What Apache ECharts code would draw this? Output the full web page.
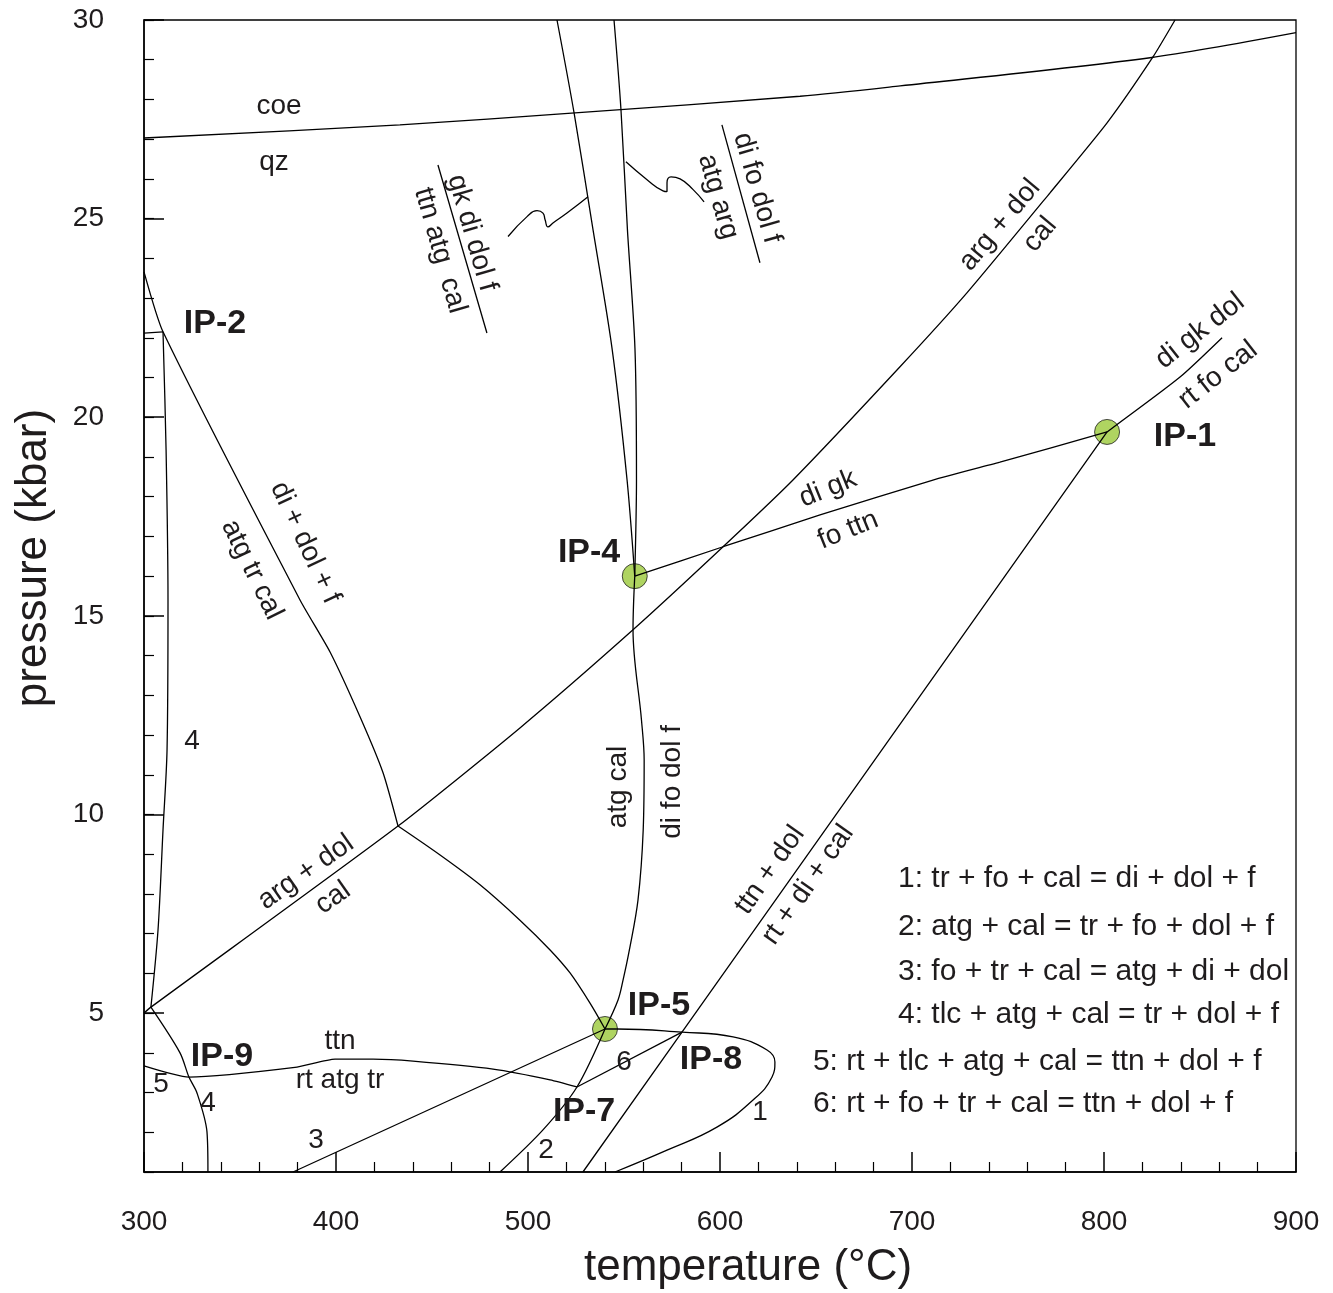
<!DOCTYPE html>
<html><head><meta charset="utf-8">
<script src="https://cdn.jsdelivr.net/npm/echarts@6/dist/echarts.min.js"></script>
<style>html,body{margin:0;padding:0;background:#fff}#c{width:1333px;height:1293px}</style>
</head><body><div id="c"></div>
<script>
// ---- axes ----
const xTicks = [300, 400, 500, 600, 700, 800, 900];
const yTicks = [5, 10, 15, 20, 25, 30];

// ---- reaction curves [T (°C), P (kbar)] ----
const coeQz = [[300,27.03],[433.3,27.36],[524.5,27.66],[641.7,28.08],[693.8,28.34],[824,29.05],[900,29.68]];
const lineA = [[515.1,30],[524.0,27.66],[533.9,24.71],[543.75,21.74],[551.6,18.42],[555.6,16.0]];
const lineB = [[544.8,30],[548.4,27.76],[551.8,24.71],[555.7,21.74],[556.5,18.42],[555.6,16.0]];
const ip4to5 = [[555.6,16.0],[554.7,14.65],[559.1,12.38],[560.5,11.37],[560.0,9.61],[557.3,7.85],[552.8,6.59],[549.5,5.83],[546.9,5.33],[540.1,4.6]];
const junctionTo5 = [[432.3,9.71],[454.2,8.98],[475.0,8.23],[495.8,7.34],[511.5,6.59],[521.9,6.01],[532.3,5.25],[540.1,4.6]];
const diDolF = [[300,23.66],[309.9,22.15],[381.25,15.40],[396.9,14.09],[412.5,12.46],[424.5,11.05],[432.3,9.71]];
const react4Top = [[300,22.12],[309.9,22.15]];
const react4Upper = [[309.9,22.15],[311.5,19.18],[312.5,15.40],[312.0,11.62],[309.9,9.61],[307.3,7.09],[303.6,5.15]];
const react4Lower = [[303.6,5.15],[318.75,4.0],[323.4,3.39],[327.6,2.99],[332.8,2.01],[333.3,1.0]];
const argCal = [[300,5.0],[303.6,5.15],[432.3,9.71],[495.8,12.18],[554.7,14.65],[601.6,16.74],[638.0,18.42],[693.75,21.27],[728.6,23.13],[771.9,25.65],[801.6,27.41],[825.5,29.07],[837.0,30.0]];
const diGkFoTtn = [[555.6,16.0],[601.6,16.74],[652.1,17.54],[710.9,18.42],[745.8,18.87],[801.6,19.63]];
const diGkDol = [[801.6,19.63],[839.6,21.01],[861.5,22.0]];
const ttnDol = [[801.6,19.63],[580.2,4.52],[528.6,1.0]];
const curve1 = [[540.1,4.6],[546.4,4.6],[580.2,4.52],[606.8,4.40],[624.5,4.07],[628.6,3.77],[627.1,3.39],[617.2,2.81],[598.4,2.13],[572.4,1.55],[545.3,1.0]];
const curve2 = [[540.1,4.6],[525.5,3.14],[507.8,2.06],[485.4,1.0]];
const curve3 = [[540.1,4.6],[377.6,1.0]];
const curve5 = [[300,3.67],[323.4,3.39],[379.7,3.64],[399.5,3.84],[419.3,3.84],[440.1,3.79],[481.8,3.59],[511.5,3.32],[525.5,3.14]];
const curve6 = [[525.5,3.14],[580.2,4.52]];
const fracLeft = [[453.1,26.35],[478.6,22.12]];
const fracRight = [[601.0,27.36],[620.8,23.89]];
const leaderLeft = [[531.25,25.55],[520.3,25.14],[513.0,24.89],[510.4,24.79],[508.9,24.97],[507.8,25.14],[504.7,25.20],[499.5,25.05],[489.6,24.55]];
const leaderRight = [[551.0,26.43],[562.0,25.98],[570.3,25.70],[572.4,25.68],[572.4,25.90],[574.5,26.05],[579.2,26.0],[586.0,25.73],[591.7,25.42]];

// ---- invariant points ----
const ipPoints = [[801.6,19.63],[555.6,16.0],[540.1,4.6]];

// ---- text annotations: [text, T, P, rotation(deg), size, weight, align] ----
const labels = [
  ['coe',370.3,27.84,0,28,'normal'],
  ['qz',367.7,26.43,0,28,'normal'],
  ['IP-2',337.0,22.35,0,34,'bold'],
  ['IP-1',842.2,19.5,0,34,'bold'],
  ['IP-4',531.8,16.58,0,34,'bold'],
  ['IP-5',568.2,5.2,0,34,'bold'],
  ['IP-8',595.3,3.82,0,34,'bold'],
  ['IP-7',529.2,2.51,0,34,'bold'],
  ['IP-9',340.6,3.9,0,34,'bold'],
  ['4',325,11.85,0,28,'normal'],
  ['5',308.9,3.22,0,28,'normal'],
  ['4',333.3,2.74,0,28,'normal'],
  ['3',389.6,1.81,0,28,'normal'],
  ['2',509.4,1.55,0,28,'normal'],
  ['1',620.8,2.51,0,28,'normal'],
  ['6',550,3.77,0,28,'normal'],
  ['ttn',402.1,4.30,0,28,'normal'],
  ['rt atg tr',402.1,3.32,0,28,'normal'],
  ['arg + dol',384.4,8.55,35,28,'normal'],
  ['cal',398.4,7.9,35,28,'normal'],
  ['arg + dol',745.8,24.84,50,28,'normal'],
  ['cal',766.7,24.6,50,28,'normal'],
  ['di + dol + f',383.9,16.84,-65,28,'normal'],
  ['atg tr cal',356.25,16.16,-64,28,'normal'],
  ['di gk',656.25,18.2,22,28,'normal'],
  ['fo ttn',666.7,17.16,22,28,'normal'],
  ['di gk dol',850,22.17,38,28,'normal'],
  ['rt fo cal',859.4,21.06,38,28,'normal'],
  ['atg cal',546.9,10.69,90,28,'normal'],
  ['di fo dol f',575,10.82,90,28,'normal'],
  ['ttn + dol',626,8.6,55,28,'normal'],
  ['rt + di + cal',645.8,8.23,55,28,'normal'],
  ['gk di dol f',470.8,24.64,-74,28,'normal'],
  ['ttn atg  cal',454.2,24.2,-74,28,'normal'],
  ['di fo dol f',619.3,25.77,-74,28,'normal'],
  ['atg arg',599.0,25.55,-74,28,'normal'],
  ['1: tr + fo + cal = di + dol + f',692.7,8.38,0,30,'normal','left'],
  ['2: atg + cal = tr + fo + dol + f',692.7,7.17,0,30,'normal','left'],
  ['3: fo + tr + cal = atg + di + dol',692.7,6.04,0,30,'normal','left'],
  ['4: tlc + atg + cal = tr + dol + f',692.7,4.95,0,30,'normal','left'],
  ['5: rt + tlc + atg + cal = ttn + dol + f',648.4,3.77,0,30,'normal','left'],
  ['6: rt + fo + tr + cal = ttn + dol + f',648.4,2.71,0,30,'normal','left']
];

const FONT = '"Liberation Sans", Arial, Helvetica, sans-serif';
const TXT = '#1f1c1d';

function lineSeries(data, smooth) {
  return {
    type: 'line', data: data, xAxisIndex: 0, yAxisIndex: 0,
    symbol: 'none', showSymbol: false, smooth: smooth || false,
    lineStyle: { color: '#000', width: 1.3 }, z: 3, silent: true, animation: false
  };
}

const series = [
  lineSeries(coeQz, 0.3),
  lineSeries(lineA, 0.3),
  lineSeries(lineB, 0.3),
  lineSeries(ip4to5, 0.35),
  lineSeries(junctionTo5, 0.3),
  lineSeries(diDolF, 0.2),
  lineSeries(react4Top),
  lineSeries(react4Upper, 0.3),
  lineSeries(react4Lower, 0.3),
  lineSeries(argCal, 0.2),
  lineSeries(diGkFoTtn, 0.2),
  lineSeries(diGkDol, 0.2),
  lineSeries(ttnDol),
  lineSeries(curve1, 0.45),
  lineSeries(curve2, 0.3),
  lineSeries(curve3),
  lineSeries(curve5, 0.2),
  lineSeries(curve6),
  lineSeries(fracLeft),
  lineSeries(fracRight),
  lineSeries(leaderLeft, 0.5),
  lineSeries(leaderRight, 0.5),
  {
    type: 'scatter', data: ipPoints, xAxisIndex: 0, yAxisIndex: 0,
    symbol: 'circle', symbolSize: 25,
    itemStyle: { color: '#9bc93a', borderColor: '#222', borderWidth: 1 },
    z: 2, silent: true, animation: false
  },
  {
    type: 'custom', coordinateSystem: 'cartesian2d', xAxisIndex: 0, yAxisIndex: 0,
    data: labels.map(d => [d[1], d[2]]),
    encode: { x: 0, y: 1 }, clip: false, silent: true, animation: false, z: 5,
    renderItem: function (params, api) {
      const d = labels[params.dataIndex];
      const pt = api.coord([d[1], d[2]]);
      return {
        type: 'text', x: pt[0], y: pt[1], rotation: d[3] * Math.PI / 180,
        style: {
          text: d[0], fill: TXT, fontSize: d[4], fontWeight: d[5],
          fontFamily: FONT, align: d[6] || 'center', verticalAlign: 'middle'
        }
      };
    }
  }
];

const chart = echarts.init(document.getElementById('c'), null, { renderer: 'canvas' });
chart.setOption({
  backgroundColor: '#fff',
  animation: false,
  grid: { left: 144, top: 20, width: 1152, height: 1152, containLabel: false, outerBoundsMode: 'none',
    show: true, borderColor: '#000', borderWidth: 1.3, backgroundColor: 'transparent' },
  xAxis: {
    type: 'value', min: xTicks[0], max: xTicks[xTicks.length - 1], interval: 100,
    axisLine: { lineStyle: { color: '#000', width: 1.5 } },
    axisTick: { inside: true, length: 20, lineStyle: { color: '#000', width: 1.5 } },
    minorTick: { show: true, splitNumber: 5, length: 10, lineStyle: { color: '#000', width: 1.2 } },
    splitLine: { show: false }, minorSplitLine: { show: false },
    axisLabel: { fontSize: 28, color: TXT, margin: 36, fontFamily: FONT },
    name: 'temperature (°C)', nameLocation: 'middle', nameGap: 74,
    nameTextStyle: { fontSize: 44, color: TXT, fontFamily: FONT, padding: [0, 0, 0, 56] }
  },
  yAxis: [
    {
      type: 'value', min: 1, max: 30, interval: 1,
      axisLine: { lineStyle: { color: '#000', width: 1.5 } },
      axisTick: { inside: true, length: 10, lineStyle: { color: '#000', width: 1.2 } },
      splitLine: { show: false },
      axisLabel: { fontSize: 28, color: TXT, margin: 40, fontFamily: FONT,
        formatter: v => yTicks.includes(v) ? String(v) : '' },
      name: 'pressure (kbar)', nameLocation: 'middle', nameGap: 88,
      nameTextStyle: { fontSize: 44, color: TXT, fontFamily: FONT, padding: [0, 0, 0, 76] }
    },
    {
      type: 'value', min: 1, max: 30, position: 'left',
      axisLine: { show: false },
      axisTick: { inside: true, length: 20, customValues: yTicks, lineStyle: { color: '#000', width: 1.5 } },
      axisLabel: { show: false }, splitLine: { show: false }
    }
  ],
  series: series
});
</script>
</body></html>
